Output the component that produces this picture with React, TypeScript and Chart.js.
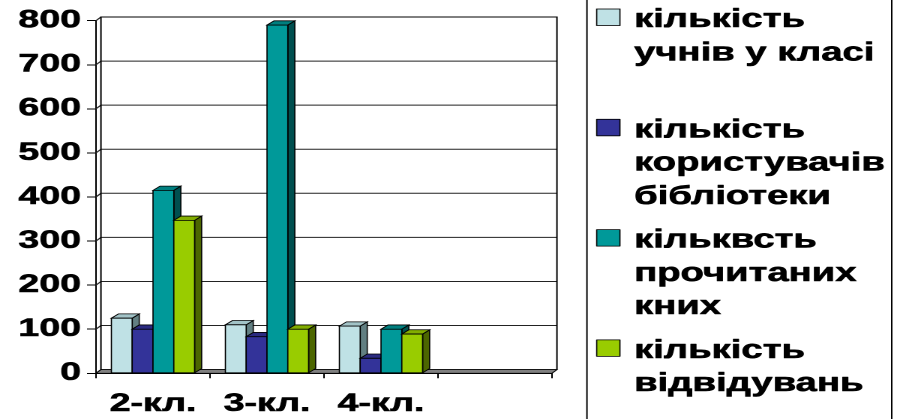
import React, { useEffect, useRef } from 'react';
import { Chart, registerables } from 'chart.js';

Chart.register(...registerables);

// ---- data ----
const categories = ['2-кл.', '3-кл.', '4-кл.', ''];
const pupilsInClass = [125, 110, 107, null];
const libraryUsers = [100, 83, 34, null];
const booksRead = [415, 790, 100, null];
const libraryVisits = [347, 100, 89, null];
const seriesLines = [
  ['кількість', 'учнів у класі'],
  ['кількість', 'користувачів', 'бібліотеки'],
  ['кільквсть', 'прочитаних', 'кних'],
  ['кількість', 'відвідувань'],
];
const yMin = 0;
const yMax = 800;
const yStep = 100;

// ---- styles ----
const frontColors = ['#BFE1E5', '#333399', '#009999', '#99CC00'];
const topColors = ['#A2C3C7', '#2A2A80', '#007F7F', '#82AD00'];
const sideColors = ['#627F82', '#1C1C55', '#004F4F', '#4C6600'];

const STRETCH = 1.5;
const W = 598;
const H = 419;
const FONT = '"Liberation Sans", Arial, Helvetica, sans-serif';

const WALL_DX = 3.3;
const WALL_DY = -3.7;
const BAR_DX = 4.7;
const BAR_DY = -4.3;

const LEG = {
  boxL: 391.3,
  boxR: 594.5,
  swX: 397.8,
  swW: 15.5,
  swH: 16.5,
  textX: 422.7,
  firstBase: 27,
  slot: 110.3,
  line: 33.3,
  font: 25.5,
};

function poly(ctx: CanvasRenderingContext2D, pts: number[][], fill: string) {
  ctx.beginPath();
  ctx.moveTo(pts[0][0], pts[0][1]);
  for (let i = 1; i < pts.length; i++) ctx.lineTo(pts[i][0], pts[i][1]);
  ctx.closePath();
  ctx.fillStyle = fill;
  ctx.fill();
  ctx.stroke();
}

const threeDPlugin = {
  id: 'threeD',
  beforeDatasetsDraw(chart: any) {
    const { ctx, chartArea } = chart;
    const { left, right, top, bottom } = chartArea;
    const y = chart.scales.y;
    const dx = WALL_DX;
    const dy = WALL_DY;
    ctx.save();
    ctx.fillStyle = '#ffffff';
    ctx.fillRect(left + dx, top + dy, right - left, bottom - top);
    ctx.lineWidth = 1;
    ctx.strokeStyle = '#222';
    y.ticks.forEach((t: any) => {
      const py = y.getPixelForValue(t.value);
      ctx.beginPath();
      ctx.moveTo(left, py);
      ctx.lineTo(left + dx, py + dy);
      ctx.lineTo(right + dx, py + dy);
      ctx.stroke();
    });
    ctx.strokeStyle = '#000';
    ctx.beginPath();
    ctx.moveTo(left + dx, bottom + dy);
    ctx.lineTo(left + dx, top + dy);
    ctx.lineTo(right + dx, top + dy);
    ctx.lineTo(right + dx, bottom + dy);
    ctx.stroke();
    ctx.lineWidth = 0.8;
    poly(
      ctx,
      [
        [left, bottom],
        [right, bottom],
        [right + dx, bottom + dy],
        [left + dx, bottom + dy],
      ],
      '#808080'
    );
    ctx.restore();
  },
  afterDatasetsDraw(chart: any) {
    const { ctx } = chart;
    const n = chart.data.labels.length;
    const metas = chart.data.datasets.map((_: any, i: number) => chart.getDatasetMeta(i));
    ctx.save();
    ctx.lineWidth = 0.8;
    ctx.strokeStyle = '#000';
    ctx.lineJoin = 'miter';
    for (let j = 0; j < n; j++) {
      metas.forEach((meta: any, i: number) => {
        const v = chart.data.datasets[i].data[j];
        const el = meta.data[j];
        if (v === null || v === undefined || !el) return;
        const p = el.getProps(['x', 'y', 'base', 'width'], true);
        const l = p.x - p.width / 2;
        const r = p.x + p.width / 2;
        const t = p.y;
        const b = p.base;
        poly(ctx, [[r, b], [r + BAR_DX, b + BAR_DY], [r + BAR_DX, t + BAR_DY], [r, t]], sideColors[i]);
        poly(ctx, [[l, t], [l + BAR_DX, t + BAR_DY], [r + BAR_DX, t + BAR_DY], [r, t]], topColors[i]);
        poly(ctx, [[l, t], [r, t], [r, b], [l, b]], frontColors[i]);
      });
    }
    ctx.restore();
  },
  afterDraw(chart: any) {
    const { ctx } = chart;
    ctx.save();
    ctx.strokeStyle = '#000';
    ctx.lineWidth = 1;
    ctx.beginPath();
    ctx.moveTo(LEG.boxL, -2);
    ctx.lineTo(LEG.boxL, H + 2);
    ctx.moveTo(LEG.boxR, -2);
    ctx.lineTo(LEG.boxR, H + 2);
    ctx.stroke();
    ctx.font = `bold ${LEG.font}px ${FONT}`;
    ctx.textBaseline = 'alphabetic';
    ctx.textAlign = 'left';
    seriesLines.forEach((lines, i) => {
      const base = LEG.firstBase + i * LEG.slot;
      ctx.fillStyle = frontColors[i];
      ctx.fillRect(LEG.swX, base - 18, LEG.swW, LEG.swH);
      ctx.lineWidth = 0.8;
      ctx.strokeRect(LEG.swX, base - 18, LEG.swW, LEG.swH);
      ctx.fillStyle = '#000';
      ctx.lineWidth = 0.6;
      ctx.lineJoin = 'round';
      lines.forEach((line, k) => {
        ctx.fillText(line, LEG.textX, base + k * LEG.line);
        ctx.strokeText(line, LEG.textX, base + k * LEG.line);
      });
    });
    ctx.restore();
  },
};

export default function App() {
  const canvasRef = useRef<HTMLCanvasElement | null>(null);

  useEffect(() => {
    document.body.style.margin = '0';
    document.body.style.overflow = 'hidden';
    const canvas = canvasRef.current;
    if (!canvas) return;
    const seriesData = [pupilsInClass, libraryUsers, booksRead, libraryVisits];
    const tickFont = { family: FONT, size: 25, weight: 'bold' };
    const chart = new Chart(canvas, {
      type: 'bar',
      data: {
        labels: categories,
        datasets: seriesData.map((d, i) => ({
          label: seriesLines[i].join(' '),
          data: d,
          backgroundColor: frontColors[i],
          borderColor: '#000',
          borderWidth: 0.8,
          barPercentage: 1,
          categoryPercentage: 0.73,
        })),
      },
      options: {
        responsive: false,
        animation: false,
        devicePixelRatio: 2,
        layout: { padding: { left: 0, right: W - 368, top: 20.7, bottom: 0 } },
        plugins: {
          legend: { display: false },
          tooltip: { enabled: false },
        },
        scales: {
          x: {
            grid: {
              offset: true,
              drawOnChartArea: false,
              drawTicks: true,
              tickLength: 5,
              color: '#000',
            },
            border: { display: true, color: '#000' },
            ticks: {
              color: '#000',
              padding: 11,
              maxRotation: 0,
              autoSkip: false,
              textStrokeColor: '#000',
              textStrokeWidth: 0.6,
              font: tickFont,
            },
            afterFit: (s: any) => {
              s.height = 45.7;
            },
          },
          y: {
            min: yMin,
            max: yMax,
            grid: {
              drawOnChartArea: false,
              drawTicks: true,
              tickLength: 6,
              color: '#000',
            },
            border: { display: true, color: '#000' },
            ticks: {
              stepSize: yStep,
              color: '#000',
              padding: 4,
              textStrokeColor: '#000',
              textStrokeWidth: 0.6,
              font: tickFont,
            },
            afterFit: (s: any) => {
              s.width = 64;
            },
          },
        },
      },
      plugins: [threeDPlugin],
    } as any);
    return () => chart.destroy();
  }, []);

  return (
    <div style={{ width: 897, height: 419, overflow: 'hidden', background: '#fff' }}>
      <div
        style={{
          width: W,
          height: H,
          transform: `scaleX(${STRETCH})`,
          transformOrigin: '0 0',
        }}
      >
        <canvas ref={canvasRef} width={W} height={H} />
      </div>
    </div>
  );
}
